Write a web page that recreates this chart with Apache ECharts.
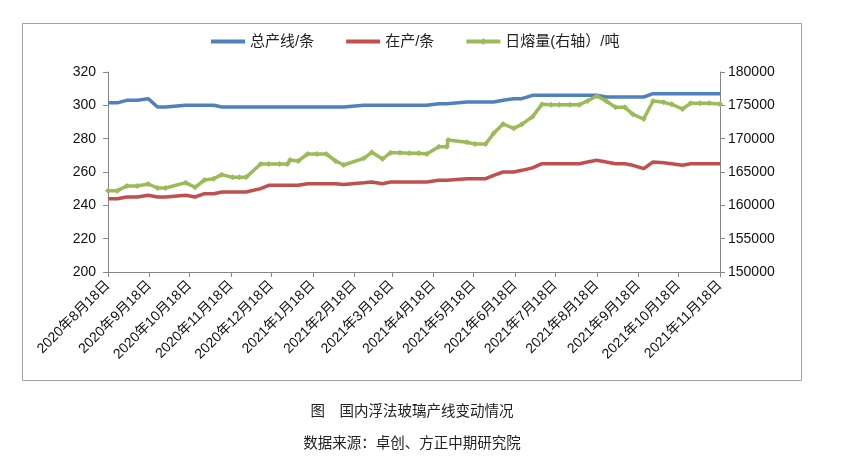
<!DOCTYPE html>
<html>
<head>
<meta charset="utf-8">
<script src="https://cdn.jsdelivr.net/npm/echarts@6/dist/echarts.min.js"></script>
<style>
html,body{margin:0;padding:0;background:#fff;}
#c{width:848px;height:466px;}
</style>
</head>
<body>
<div id="c"></div>
<script>
// ---- data ----
var dates = [
 '2020-08-18','2020-08-25','2020-09-01','2020-09-09','2020-09-17','2020-09-24','2020-09-30',
 '2020-10-15','2020-10-22','2020-10-29','2020-11-05','2020-11-11','2020-11-19','2020-11-24','2020-11-29',
 '2020-12-10','2020-12-16','2020-12-24','2020-12-30','2021-01-01','2021-01-07','2021-01-14','2021-01-21',
 '2021-01-28','2021-02-04','2021-02-10','2021-02-25','2021-03-03','2021-03-11','2021-03-17','2021-03-24',
 '2021-03-31','2021-04-07','2021-04-13','2021-04-22','2021-04-28','2021-04-29','2021-05-13','2021-05-19',
 '2021-05-27','2021-06-02','2021-06-09','2021-06-17','2021-06-23','2021-07-01','2021-07-08','2021-07-15',
 '2021-07-21','2021-07-29','2021-08-05','2021-08-11','2021-08-18','2021-08-25','2021-09-01','2021-09-08',
 '2021-09-14','2021-09-22','2021-09-29','2021-10-07','2021-10-13','2021-10-21','2021-10-27','2021-11-03',
 '2021-11-10','2021-11-18'
];
var totalLines = [
 301.5,301.5,303,303,304,299,299,
 300,300,300,300,299,299,299,299,
 299,299,299,299,299,299,299,299,
 299,299,299,300,300,300,300,300,
 300,300,300,301,301,301,302,302,
 302,302,303,304,304,306,306,306,
 306,306,306,306,306,305,305,305,
 305,305,307,307,307,307,307,307,
 307,307
];
var activeLines = [
 244,244,245,245,246,245,245,
 246,245,247,247,248,248,248,248,
 250,252,252,252,252,252,253,253,
 253,253,252.5,253.5,254,253,254,254,
 254,254,254,255,255,255,256,256,
 256,258,260,260,261,262.5,265,265,
 265,265,265,266,267,266,265,265,
 264,262,266,265.5,265,264,265,265,
 265,265
];
var dailyMelt = [
 162200,162200,162900,162900,163200,162600,162600,
 163400,162700,163800,164000,164600,164200,164200,164200,
 166200,166200,166200,166200,166800,166650,167700,167700,
 167700,166650,166050,167050,167950,166950,167900,167900,
 167800,167800,167700,168800,168800,169800,169450,169200,
 169200,170800,172200,171550,172150,173300,175150,175100,
 175100,175100,175100,175650,176400,175650,174700,174700,
 173650,172950,175650,175450,175150,174450,175300,175300,
 175300,175200
];
var tickDates = [
 '2020-08-18','2020-09-18','2020-10-18','2020-11-18','2020-12-18','2021-01-18','2021-02-18',
 '2021-03-18','2021-04-18','2021-05-18','2021-06-18','2021-07-18','2021-08-18','2021-09-18',
 '2021-10-18','2021-11-18'
];
var leftTicks = [200,220,240,260,280,300,320];
var rightTicks = [150000,155000,160000,165000,170000,175000,180000];
var seriesNames = ['总产线/条','在产/条','日熔量(右轴）/吨'];
var captionText = '图　国内浮法玻璃产线变动情况';
var sourceText = '数据来源：卓创、方正中期研究院';

// ---- helpers ----
var DAY = 86400000;
var base = Date.UTC(2020,7,18);
function dayNum(s){ var p = s.split('-'); return Math.round((Date.UTC(+p[0], +p[1]-1, +p[2]) - base)/DAY); }
function pair(vals){ return dates.map(function(d,i){ return [dayNum(d), vals[i]]; }); }
var tickDays = tickDates.map(dayNum);
function fmt(v){ var d = new Date(base + Math.round(v)*DAY); return d.getUTCFullYear()+'年'+(d.getUTCMonth()+1)+'月'+d.getUTCDate()+'日'; }

var lineIcon = 'path://M0,0h0.01v0.01h-0.01z M0,5h34v4h-34z M33.99,13.99h0.01v0.01h-0.01z';
var markIcon = 'path://M0,0h0.01v0.01h-0.01z M0,5h34v4h-34z M17,3.5l3,3.5l-3,3.5l-3,-3.5z M33.99,13.99h0.01v0.01h-0.01z';

var FONT = '"Liberation Sans","Noto Sans CJK SC",sans-serif';
var chart = echarts.init(document.getElementById('c'), null, {renderer:'canvas'});
chart.setOption({
  animation:false,
  backgroundColor:'#fff',
  graphic:[
    {type:'rect', shape:{x:22.5,y:23.5,width:779,height:357}, style:{fill:'none',stroke:'#a0a0a0',lineWidth:1}, z:-1},
    {type:'text', x:412, y:403, style:{text:captionText, font:'14.5px "Noto Sans CJK SC",sans-serif', fill:'#222', textAlign:'center'}},
    {type:'text', x:412, y:435, style:{text:sourceText, font:'14.5px "Noto Sans CJK SC",sans-serif', fill:'#222', textAlign:'center'}}
  ],
  legend:{
    top:29, left:206, itemGap:32, itemWidth:34, itemHeight:14,
    textStyle:{fontSize:15, color:'#222', fontFamily:FONT},
    data:[
      {name:seriesNames[0], icon:lineIcon},
      {name:seriesNames[1], icon:lineIcon},
      {name:seriesNames[2], icon:markIcon}
    ]
  },
  grid:{left:108, right:128, top:72, bottom:194, containLabel:false},
  xAxis:{
    type:'value',
    min:tickDays[0], max:tickDays[tickDays.length-1],
    axisLine:{show:true, onZero:false, lineStyle:{color:'#868686', width:1}},
    axisTick:{show:true, length:5, customValues:tickDays, lineStyle:{color:'#868686'}},
    splitLine:{show:false},
    axisLabel:{
      customValues:tickDays, rotate:45, fontSize:14, color:'#111', fontFamily:FONT, margin:11,
      formatter:fmt
    }
  },
  yAxis:[
    {type:'value', min:leftTicks[0], max:leftTicks[leftTicks.length-1], interval:20,
     axisLine:{show:true, lineStyle:{color:'#868686'}},
     axisTick:{show:true, length:5, lineStyle:{color:'#868686'}},
     splitLine:{show:false},
     axisLabel:{fontSize:14, color:'#111', fontFamily:FONT, margin:12}},
    {type:'value', min:rightTicks[0], max:rightTicks[rightTicks.length-1], interval:5000,
     axisLine:{show:true, lineStyle:{color:'#868686'}},
     axisTick:{show:true, length:5, lineStyle:{color:'#868686'}},
     splitLine:{show:false},
     axisLabel:{fontSize:14, color:'#111', fontFamily:FONT, margin:8, formatter:function(v){ return String(v); }}}
  ],
  series:[
    {name:seriesNames[0], type:'line', yAxisIndex:0, data:pair(totalLines), symbol:'none',
     lineStyle:{color:'#4F81BD', width:3.5}, itemStyle:{color:'#4F81BD'}},
    {name:seriesNames[1], type:'line', yAxisIndex:0, data:pair(activeLines), symbol:'none',
     lineStyle:{color:'#C0504D', width:3.5}, itemStyle:{color:'#C0504D'}},
    {name:seriesNames[2], type:'line', yAxisIndex:1, data:pair(dailyMelt), symbol:'diamond', symbolSize:6,
     lineStyle:{color:'#9BBB59', width:3.5}, itemStyle:{color:'#9BBB59'}}
  ]
});
</script>
</body>
</html>
